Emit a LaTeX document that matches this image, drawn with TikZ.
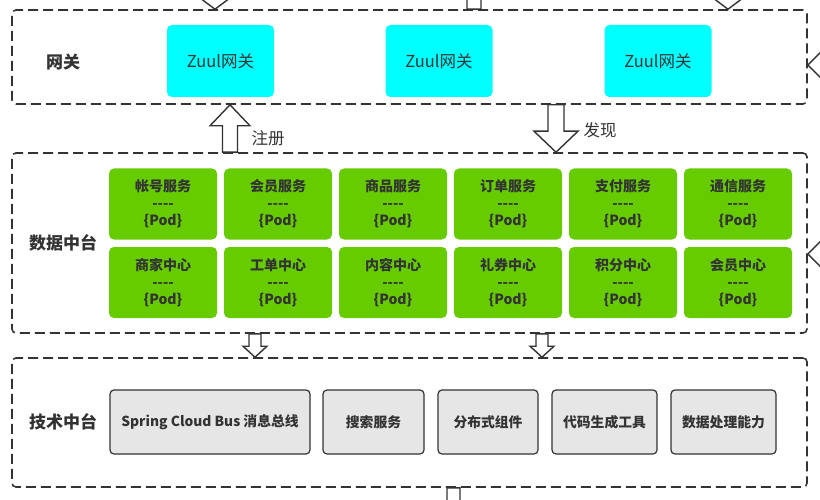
\documentclass[tikz,border=0pt]{standalone}
\usepackage{fontspec}
\setmainfont{Noto Sans CJK SC}
\usetikzlibrary{calc}
\definecolor{zuulcyan}{HTML}{00FFFF}
\definecolor{podgreen}{HTML}{66CC00}
\definecolor{busgray}{HTML}{E6E6E6}
\definecolor{inkgray}{HTML}{333333}
% hollow block arrow: from, to, shaft half width, head half width, head length
\newcommand{\fatarrow}[5]{%
  \coordinate (fa-s) at (#1);
  \coordinate (fa-e) at (#2);
  \coordinate (fa-b) at ($(fa-e)!#5!(fa-s)$);
  \draw[fatline] ($(fa-s)!#3!90:(fa-e)$) -- ($(fa-b)!#3!90:(fa-e)$)
    -- ($(fa-b)!#4!90:(fa-e)$) -- (fa-e) -- ($(fa-b)!#4!-90:(fa-e)$)
    -- ($(fa-b)!#3!-90:(fa-e)$) -- ($(fa-s)!#3!-90:(fa-e)$) -- cycle;}
\begin{document}
\begin{tikzpicture}[x=1pt,y=-1pt,
  layer/.style={draw=inkgray,line width=1.6pt,dash pattern=on 10pt off 5pt,rounded corners=4pt},
  zuul/.style={fill=zuulcyan,rounded corners=5pt,minimum width=107pt,minimum height=72pt,
    font=\fontsize{16.5}{19}\selectfont,text=inkgray},
  pod/.style={fill=podgreen,rounded corners=5pt,minimum width=108pt,minimum height=71pt,
    align=center,font=\fontsize{14}{17}\selectfont\bfseries,text=inkgray},
  tool/.style={draw=inkgray,line width=1.2pt,fill=busgray,rounded corners=4pt,minimum height=64pt,
    font=\fontsize{13.8}{16}\selectfont\bfseries,text=inkgray},
  tier/.style={font=\fontsize{17}{20}\selectfont\bfseries,text=inkgray},
  note/.style={font=\fontsize{16.5}{19}\selectfont,text=inkgray},
  fatline/.style={draw=inkgray,fill=white,line width=1.4pt,line join=miter}]
\useasboundingbox (0,0) rectangle (820,500);
\clip (0,0) rectangle (820,500);
% layers
\node[layer,minimum width=795pt,minimum height=94pt] (gw) at (409.5,57) {};
\node[layer,minimum width=795pt,minimum height=180pt] (data) at (409.5,243) {};
\node[layer,minimum width=795pt,minimum height=129pt] (tech) at (409.5,422.5) {};
\node[tier] (gwlab) at (63,62) {网关};
\node[tier] (datalab) at (63,243) {数据中台};
\node[tier] (techlab) at (63,422) {技术中台};
% gateway
\node[zuul] (zuul1) at (220.5,61) {Zuul网关};
\node[zuul] (zuul2) at (439,61) {Zuul网关};
\node[zuul] (zuul3) at (658,61) {Zuul网关};
% services
\foreach \name [count=\i from 0] in {帐号服务,会员服务,商品服务,订单服务,支付服务,通信服务}
  \node[pod] (svc\i) at (163+115*\i,204) {\name\\{-}{-}{-}{-}\\\{Pod\}};
\foreach \name [count=\i from 0] in {商家中心,工单中心,内容中心,礼券中心,积分中心,会员中心}
  \node[pod] (ctr\i) at (163+115*\i,282.5) {\name\\{-}{-}{-}{-}\\\{Pod\}};
% tech
\node[tool,minimum width=200pt] (bus) at (210,422) {Spring Cloud Bus 消息总线};
\node[tool,minimum width=101pt] (search) at (373.5,422) {搜索服务};
\node[tool,minimum width=100pt] (dist) at (488,422) {分布式组件};
\node[tool,minimum width=105pt] (codegen) at (604.5,422) {代码生成工具};
\node[tool,minimum width=105pt] (proc) at (723.5,422) {数据处理能力};
% arrows
\coordinate (reg) at (230,0);
\coordinate (disc) at (556,0);
\coordinate (downa) at (255,0);
\coordinate (downb) at (542,0);
\coordinate (topa) at (215,-40);
\coordinate (topb) at (474,-60);
\coordinate (topc) at (728,-40);
\coordinate (rina) at (880,65);
\coordinate (rinb) at (880,254);
\coordinate (botc) at (453.5,560);
\fatarrow{data.north -| reg}{gw.south -| reg}{7.5pt}{20pt}{21pt}
\fatarrow{gw.south -| disc}{data.north -| disc}{8pt}{22pt}{21pt}
\fatarrow{data.south -| downa}{tech.north -| downa}{6pt}{12pt}{11pt}
\fatarrow{data.south -| downb}{tech.north -| downb}{6pt}{12pt}{11pt}
\fatarrow{topa}{gw.north -| topa}{8pt}{24pt}{18pt}
\fatarrow{gw.north -| topb}{topb}{7pt}{20pt}{20pt}
\fatarrow{topc}{gw.north -| topc}{8pt}{24pt}{18pt}
\fatarrow{rina}{gw.east |- rina}{7pt}{20pt}{20pt}
\fatarrow{rinb}{data.east |- rinb}{7pt}{20pt}{20pt}
\fatarrow{tech.south -| botc}{botc}{6.5pt}{20pt}{20pt}
\node[note] (reglab) at (268,138) {注册};
\node[note] (disclab) at (600,130) {发现};
\end{tikzpicture}
\end{document}
